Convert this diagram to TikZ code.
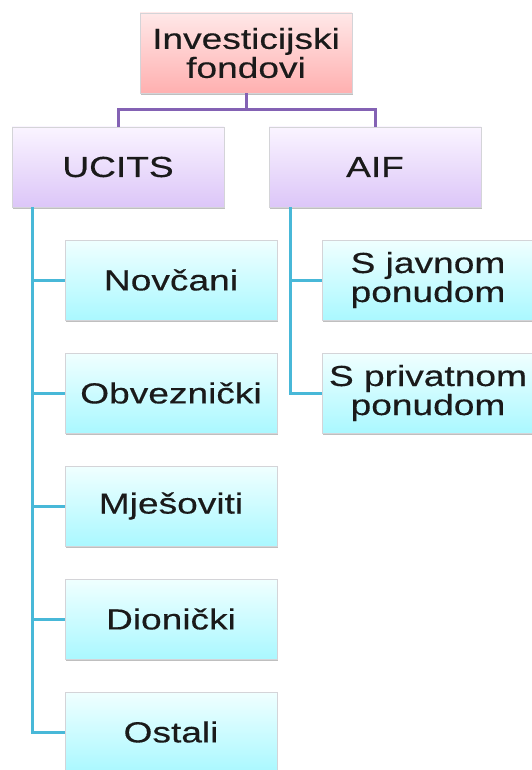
\documentclass[tikz,border=0pt]{standalone}
\usepackage{fontspec}
\usepackage{xcolor}
\newfontfamily\boxfont[FakeStretch=1.28,FakeBold=0.4]{Liberation Sans}
\usetikzlibrary{calc,shadows}

\definecolor{pinktop}{HTML}{FFE8E8}
\definecolor{pinkbot}{HTML}{FFB0B0}
\definecolor{lilactop}{HTML}{FAF4FF}
\definecolor{lilacbot}{HTML}{DCC6F8}
\definecolor{cyantop}{HTML}{F0FFFF}
\definecolor{cyanbot}{HTML}{AAF8FF}
\definecolor{boxline}{HTML}{D4D4D8}
\definecolor{purpleline}{HTML}{8462B4}
\definecolor{cyanline}{HTML}{48B8D8}
\definecolor{textcol}{HTML}{1A1A1A}

\begin{document}
\begin{tikzpicture}[x=1pt,y=-1pt]
    \tikzstyle{every node}=[draw=boxline,line width=0.6pt,minimum width=212pt,minimum height=80pt,inner sep=0pt,align=center,text=textcol,font=\boxfont\fontsize{29}{29}\selectfont,drop shadow={shadow xshift=0.5pt,shadow yshift=-2pt,opacity=0.5}]
    \tikzstyle{rootbox}=[top color=pinktop,bottom color=pinkbot]
    \tikzstyle{typebox}=[top color=lilactop,bottom color=lilacbot]
    \tikzstyle{kindbox}=[top color=cyantop,bottom color=cyanbot]
    \tikzstyle{upline}=[draw=purpleline,line width=3pt]
    \tikzstyle{downline}=[draw=cyanline,line width=3pt]

    \useasboundingbox (0,0) rectangle (532,770);

    \node[rootbox] (fond) at (246,53) {Investicijski\\fondovi};
    \node[typebox] (ucits) at (118,167) {UCITS};
    \node[typebox] (aif) at (375,167) {AIF};

    % UCITS fondovi
    \node[kindbox] (nov) at (171,280) {Novčani};
    \node[kindbox] (obv) at ($(nov) + (0,113)$) {Obveznički};
    \node[kindbox] (mje) at ($(obv) + (0,113)$) {Mješoviti};
    \node[kindbox] (dio) at ($(mje) + (0,113)$) {Dionički};
    \node[kindbox] (ost) at ($(dio) + (0,113)$) {Ostali};

    % AIF fondovi
    \node[kindbox] (jav) at (428,280) {S javnom\\ponudom};
    \node[kindbox] (pri) at ($(jav) + (0,113)$) {S privatnom\\ponudom};

    \coordinate (mid) at (246,110);
    \draw[upline] (fond) -- (mid);
    \draw[upline] (ucits.north) |- (mid) -| (aif.north);

    \coordinate (ut) at ($(ucits.south west) + (21,0)$);
    \coordinate (at) at ($(aif.south west) + (22,0)$);
    \foreach \k in {nov,obv,mje,dio,ost}
        \draw[downline] (ut) |- (\k.west);
    \foreach \k in {jav,pri}
        \draw[downline] (at) |- (\k.west);

\end{tikzpicture}
\end{document}
